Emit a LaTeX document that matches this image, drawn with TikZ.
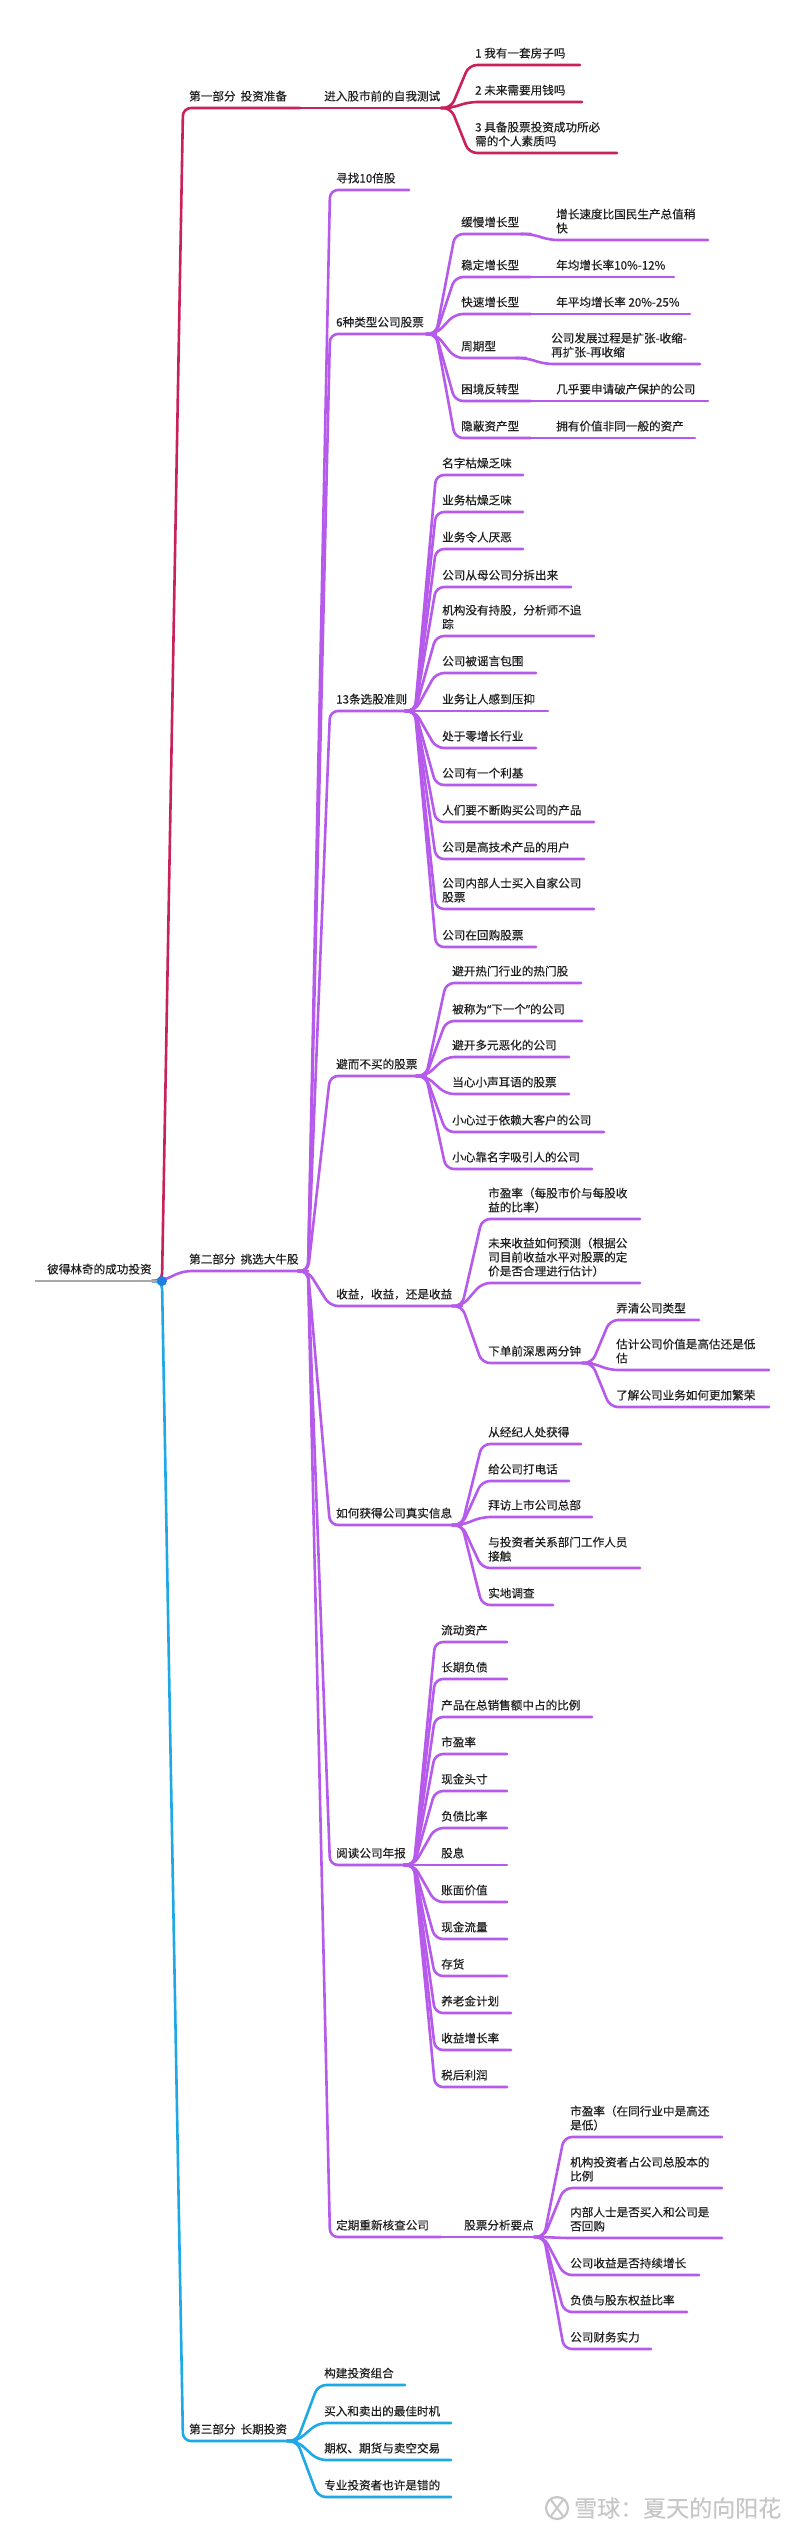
\documentclass[tikz,border=0pt]{standalone}
\usepackage{fontspec}
\setmainfont{Noto Sans CJK SC}[FakeBold=0.3]
\newfontfamily\qfont{Noto Sans}[FakeBold=0.3]
\usetikzlibrary{calc}
\definecolor{cred}{HTML}{C9215A}
\definecolor{cpur}{HTML}{B65AEC}
\definecolor{cblue}{HTML}{1EA8E5}
\definecolor{cgray}{HTML}{A8A8A8}
\definecolor{cdot}{HTML}{1E7FE0}
\newcommand\mlii[2]{\vbox{\baselineskip=14pt\hbox{#1}\hbox{#2}}}
\newcommand\mliii[3]{\vbox{\baselineskip=14pt\hbox{#1}\hbox{#2}\hbox{#3}}}
% #1 name, #2 parent, #3 ul start x, #4 ul y, #5 ul end x, #6 colour, #7 text
\newcommand\tpc[7]{%
  \coordinate (#1-s) at (#3,#4);
  \coordinate (#1-e) at (#5,#4);
  \draw[ln,#6] ($(#2-e)+(-10,0)$) -- (#2-e) -- (#1-s) -- (#1-e);
  \node[txt] (#1) at ($(#1-s)+(6,-7.5)$) {#7};
}
\tikzset{
  ln/.style={line width=2.6pt, line cap=round, line join=round, rounded corners=8pt},
  txt/.style={anchor=base west, inner sep=0pt, font=\fontsize{11.6}{14}\selectfont, text=black!88},
}
\begin{document}
\begin{tikzpicture}[x=1pt,y=-1pt]
\fill[white] (0,0) rectangle (800,2533);
\useasboundingbox (0,0) rectangle (800,2533);

\coordinate (root-s) at (35,1281);
\coordinate (root-e) at (162,1281);

% ---------- Part 1 ----------
\tpc{p1}{root}{183}{108}{300}{cred}{第一部分\hspace{5pt}投资准备}
\tpc{s1}{p1}{318}{108}{451}{cred}{进入股市前的自我测试}
\tpc{q1}{s1}{469}{65}{580}{cred}{1 我有一套房子吗}
\tpc{q2}{s1}{469}{102}{582}{cred}{2 未来需要用钱吗}
\tpc{q3}{s1}{469}{153}{617}{cred}{\mlii{3 具备股票投资成功所必}{需的个人素质吗}}

% ---------- Part 2 ----------
\tpc{p2}{root}{183}{1271}{308}{cpur}{第二部分\hspace{5pt}挑选大牛股}
\tpc{a1}{p2}{330}{190}{409}{cpur}{寻找10倍股}
\tpc{a2}{p2}{330}{334}{436}{cpur}{6种类型公司股票}
\tpc{a3}{p2}{330}{711}{415}{cpur}{13条选股准则}
\tpc{a4}{p2}{330}{1076}{426}{cpur}{避而不买的股票}
\tpc{a5}{p2}{330}{1306}{462}{cpur}{收益，收益，还是收益}
\tpc{a6}{p2}{330}{1525}{462}{cpur}{如何获得公司真实信息}
\tpc{a7}{p2}{330}{1865}{414}{cpur}{阅读公司年报}
\tpc{a8}{p2}{330}{2237}{441}{cpur}{定期重新核查公司}

% six types
\tpc{b1}{a2}{455}{234}{531}{cpur}{缓慢增长型}
\tpc{b1l}{b1}{550}{240}{708}{cpur}{\mlii{增长速度比国民生产总值稍}{快}}
\tpc{b2}{a2}{455}{277}{531}{cpur}{稳定增长型}
\tpc{b2l}{b2}{550}{277}{674}{cpur}{年均增长率10\%-12\%}
\tpc{b3}{a2}{455}{314}{531}{cpur}{快速增长型}
\tpc{b3l}{b3}{550}{314}{690}{cpur}{年平均增长率 20\%-25\%}
\tpc{b4}{a2}{455}{358}{526}{cpur}{周期型}
\tpc{b4l}{b4}{545}{364}{700}{cpur}{\mlii{公司发展过程是扩张-收缩-}{再扩张-再收缩}}
\tpc{b5}{a2}{455}{401}{531}{cpur}{困境反转型}
\tpc{b5l}{b5}{550}{401}{708}{cpur}{几乎要申请破产保护的公司}
\tpc{b6}{a2}{455}{438}{531}{cpur}{隐蔽资产型}
\tpc{b6l}{b6}{550}{438}{695}{cpur}{拥有价值非同一般的资产}

% 13 rules
\tpc{c1}{a3}{436}{475}{523}{cpur}{名字枯燥乏味}
\tpc{c2}{a3}{436}{512}{523}{cpur}{业务枯燥乏味}
\tpc{c3}{a3}{436}{549}{523}{cpur}{业务令人厌恶}
\tpc{c4}{a3}{436}{587}{571}{cpur}{公司从母公司分拆出来}
\tpc{c5}{a3}{436}{636}{594}{cpur}{\mlii{机构没有持股，分析师不追}{踪}}
\tpc{c6}{a3}{436}{673}{536}{cpur}{公司被谣言包围}
\tpc{c7}{a3}{436}{711}{548}{cpur}{业务让人感到压抑}
\tpc{c8}{a3}{436}{748}{536}{cpur}{处于零增长行业}
\tpc{c9}{a3}{436}{785}{536}{cpur}{公司有一个利基}
\tpc{c10}{a3}{436}{822}{594}{cpur}{人们要不断购买公司的产品}
\tpc{c11}{a3}{436}{859}{584}{cpur}{公司是高技术产品的用户}
\tpc{c12}{a3}{436}{909}{594}{cpur}{\mlii{公司内部人士买入自家公司}{股票}}
\tpc{c13}{a3}{436}{947}{536}{cpur}{公司在回购股票}

% avoid
\tpc{d1}{a4}{446}{983}{581}{cpur}{避开热门行业的热门股}
\tpc{d2}{a4}{446}{1021}{582}{cpur}{被称为{\qfont “}下一个{\qfont ”}的公司}
\tpc{d3}{a4}{446}{1057}{569}{cpur}{避开多元恶化的公司}
\tpc{d4}{a4}{446}{1094}{569}{cpur}{当心小声耳语的股票}
\tpc{d5}{a4}{446}{1132}{604}{cpur}{小心过于依赖大客户的公司}
\tpc{d6}{a4}{446}{1169}{592}{cpur}{小心靠名字吸引人的公司}

% earnings
\tpc{e1}{a5}{482}{1219}{640}{cpur}{\mlii{市盈率（每股市价与每股收}{益的比率）}}
\tpc{e2}{a5}{482}{1283}{640}{cpur}{\mliii{未来收益如何预测（根据公}{司目前收益水平对股票的定}{价是否合理进行估计）}}
\tpc{e3}{a5}{482}{1363}{592}{cpur}{下单前深思两分钟}
\tpc{f1}{e3}{610}{1320}{699}{cpur}{弄清公司类型}
\tpc{f2}{e3}{610}{1370}{769}{cpur}{\mlii{估计公司价值是高估还是低}{估}}
\tpc{f3}{e3}{610}{1407}{769}{cpur}{了解公司业务如何更加繁荣}

% info
\tpc{g1}{a6}{482}{1444}{581}{cpur}{从经纪人处获得}
\tpc{g2}{a6}{482}{1481}{569}{cpur}{给公司打电话}
\tpc{g3}{a6}{482}{1517}{592}{cpur}{拜访上市公司总部}
\tpc{g4}{a6}{482}{1568}{640}{cpur}{\mlii{与投资者关系部门工作人员}{接触}}
\tpc{g5}{a6}{482}{1605}{553}{cpur}{实地调查}

% annual report
\tpc{h1}{a7}{435}{1642}{507}{cpur}{流动资产}
\tpc{h2}{a7}{435}{1679}{507}{cpur}{长期负债}
\tpc{h3}{a7}{435}{1717}{592}{cpur}{产品在总销售额中占的比例}
\tpc{h4}{a7}{435}{1754}{507}{cpur}{市盈率}
\tpc{h5}{a7}{435}{1791}{507}{cpur}{现金头寸}
\tpc{h6}{a7}{435}{1828}{507}{cpur}{负债比率}
\tpc{h7}{a7}{435}{1865}{507}{cpur}{股息}
\tpc{h8}{a7}{435}{1902}{507}{cpur}{账面价值}
\tpc{h9}{a7}{435}{1939}{507}{cpur}{现金流量}
\tpc{h10}{a7}{435}{1976}{507}{cpur}{存货}
\tpc{h11}{a7}{435}{2013}{511}{cpur}{养老金计划}
\tpc{h12}{a7}{435}{2050}{511}{cpur}{收益增长率}
\tpc{h13}{a7}{435}{2087}{507}{cpur}{税后利润}

% recheck
\tpc{i0}{a8}{458}{2237}{544}{cpur}{股票分析要点}
\tpc{i1}{i0}{564}{2137}{722}{cpur}{\mlii{市盈率（在同行业中是高还}{是低）}}
\tpc{i2}{i0}{564}{2188}{722}{cpur}{\mlii{机构投资者占公司总股本的}{比例}}
\tpc{i3}{i0}{564}{2238}{722}{cpur}{\mlii{内部人士是否买入和公司是}{否回购}}
\tpc{i4}{i0}{564}{2275}{699}{cpur}{公司收益是否持续增长}
\tpc{i5}{i0}{564}{2312}{687}{cpur}{负债与股东权益比率}
\tpc{i6}{i0}{564}{2349}{651}{cpur}{公司财务实力}

% ---------- Part 3 ----------
\tpc{p3}{root}{183}{2441}{297}{cblue}{第三部分\hspace{5pt}长期投资}
\tpc{j1}{p3}{318}{2385}{405}{cblue}{构建投资组合}
\tpc{j2}{p3}{318}{2423}{451}{cblue}{买入和卖出的最佳时机}
\tpc{j3}{p3}{318}{2460}{451}{cblue}{期权、期货与卖空交易}
\tpc{j4}{p3}{318}{2497}{451}{cblue}{专业投资者也许是错的}

% ---------- root ----------
\draw[line width=2.6pt, cgray] (root-s) -- (root-e);
\node[txt] (root) at ($(root-s)+(12,-7.5)$) {彼得林奇的成功投资};
\fill[cdot] (root-e) circle (5);

% ---------- watermark ----------
\node[anchor=west, inner sep=0pt, text=black!22, font=\fontsize{23}{23}\selectfont] (wm) at (574,2508) {雪球：夏天的向阳花};
\draw[black!22, line width=2.2pt] (557,2508) circle (11);
\draw[black!22, line width=2pt] (551,2500) -- (563,2516) (563,2500) -- (551,2516);
\end{tikzpicture}
\end{document}
